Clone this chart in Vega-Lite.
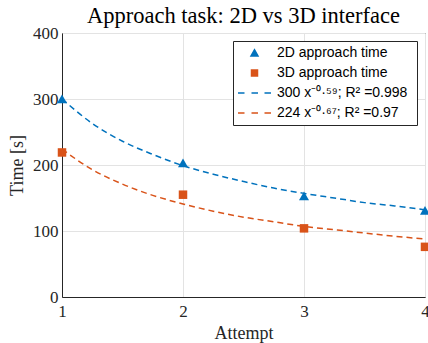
{
  "$schema": "https://vega.github.io/schema/vega-lite/v6.json",
  "width": 363,
  "height": 264,
  "autosize": {"type": "none"},
  "padding": {"left": 62, "top": 33, "right": 3, "bottom": 46},
  "background": "white",
  "title": {
    "text": "Approach task: 2D vs 3D interface",
    "font": "Liberation Serif",
    "fontSize": 22.5,
    "fontWeight": "normal",
    "color": "#000000",
    "offset": -3
  },
  "config": {
    "view": {"stroke": "#262626", "strokeWidth": 1},
    "axis": {
      "domainColor": "#262626",
      "gridColor": "#e3e3e3",
      "gridWidth": 1,
      "ticks": false,
      "labelFont": "Liberation Serif",
      "labelFontSize": 17,
      "labelColor": "#262626",
      "titleFont": "Liberation Serif",
      "titleFontSize": 18,
      "titleFontWeight": "normal",
      "titleColor": "#262626"
    }
  },
  "datasets": {
    "pts": [
      {"attempt": 1, "time": 300, "series": "2D approach time"},
      {"attempt": 2, "time": 203, "series": "2D approach time"},
      {"attempt": 3, "time": 153, "series": "2D approach time"},
      {"attempt": 4, "time": 131, "series": "2D approach time"},
      {"attempt": 1, "time": 219, "series": "3D approach time"},
      {"attempt": 2, "time": 155, "series": "3D approach time"},
      {"attempt": 3, "time": 104, "series": "3D approach time"},
      {"attempt": 4, "time": 76, "series": "3D approach time"}
    ],
    "fitdata": [
      {"attempt": 1, "time": 300, "fit": "2D"},
      {"attempt": 1.25, "time": 263, "fit": "2D"},
      {"attempt": 1.5, "time": 236, "fit": "2D"},
      {"attempt": 1.75, "time": 216, "fit": "2D"},
      {"attempt": 2, "time": 199, "fit": "2D"},
      {"attempt": 2.25, "time": 186, "fit": "2D"},
      {"attempt": 2.5, "time": 175, "fit": "2D"},
      {"attempt": 2.75, "time": 165, "fit": "2D"},
      {"attempt": 3, "time": 157, "fit": "2D"},
      {"attempt": 3.25, "time": 150, "fit": "2D"},
      {"attempt": 3.5, "time": 143, "fit": "2D"},
      {"attempt": 3.75, "time": 138, "fit": "2D"},
      {"attempt": 4, "time": 132, "fit": "2D"},
      {"attempt": 1, "time": 224, "fit": "3D"},
      {"attempt": 1.25, "time": 193, "fit": "3D"},
      {"attempt": 1.5, "time": 171, "fit": "3D"},
      {"attempt": 1.75, "time": 154, "fit": "3D"},
      {"attempt": 2, "time": 141, "fit": "3D"},
      {"attempt": 2.25, "time": 130, "fit": "3D"},
      {"attempt": 2.5, "time": 121, "fit": "3D"},
      {"attempt": 2.75, "time": 114, "fit": "3D"},
      {"attempt": 3, "time": 107, "fit": "3D"},
      {"attempt": 3.25, "time": 102, "fit": "3D"},
      {"attempt": 3.5, "time": 97, "fit": "3D"},
      {"attempt": 3.75, "time": 92, "fit": "3D"},
      {"attempt": 4, "time": 88, "fit": "3D"}
    ]
  },
  "encoding": {
    "x": {
      "field": "attempt",
      "type": "quantitative",
      "scale": {"domain": [1, 4], "nice": false, "zero": false},
      "axis": {"title": "Attempt", "values": [1, 2, 3, 4], "format": "d", "labelPadding": 6, "titlePadding": 5, "labelFlush": false}
    },
    "y": {
      "field": "time",
      "type": "quantitative",
      "scale": {"domain": [0, 400], "nice": false},
      "axis": {"title": "Time [s]", "values": [0, 100, 200, 300, 400], "labelPadding": 4, "titlePadding": 6}
    }
  },
  "layer": [
    {
      "data": {"name": "fitdata"},
      "mark": {"type": "line", "strokeDash": [6, 4], "strokeWidth": 1.5, "interpolate": "monotone"},
      "encoding": {
        "stroke": {
          "field": "fit",
          "type": "nominal",
          "scale": {"domain": ["2D", "3D"], "range": ["#0072BD", "#D95319"]},
          "legend": null
        }
      }
    },
    {
      "data": {"name": "pts"},
      "mark": {"type": "point", "filled": true, "opacity": 1, "size": 100},
      "encoding": {
        "shape": {
          "field": "series",
          "type": "nominal",
          "scale": {
            "domain": ["2D approach time", "3D approach time"],
            "range": ["M-1,0.85L1,0.85L0,-0.9Z", "M-0.85,-0.85H0.85V0.85H-0.85Z"]
          },
          "legend": null
        },
        "color": {
          "field": "series",
          "type": "nominal",
          "scale": {
            "domain": ["2D approach time", "3D approach time", "300 x⁻⁰·⁵⁹;  R² =0.998", "224 x⁻⁰·⁶⁷;  R² =0.97"],
            "range": ["#0072BD", "#D95319", "#0072BD", "#D95319"]
          },
          "legend": {
            "title": null,
            "orient": "top-right",
            "offset": 8,
            "padding": 5,
            "strokeColor": "#262626",
            "fillColor": "white",
            "cornerRadius": 0,
            "labelFont": "Liberation Sans",
            "labelFontSize": 14,
            "labelColor": "#000000",
            "labelLimit": 300,
            "labelOffset": 25,
            "rowPadding": 6,
            "symbolSize": 100,
            "symbolOpacity": 1,
            "symbolStrokeWidth": 1.5,
            "encode": {
              "symbols": {
                "update": {
                  "shape": {"signal": "datum.label == '2D approach time' ? 'M1.2,0.6L2.6,0.6L1.9,-0.65Z' : (datum.label == '3D approach time' ? 'M1.3,-0.6H2.5V0.6H1.3Z' : 'M-1.4,0H-0.1M1.3,0H2.6M3.9,0H5.2')"},
                  "stroke": {"scale": "color", "field": "value"}
                }
              }
            }
          }
        }
      }
    }
  ]
}
